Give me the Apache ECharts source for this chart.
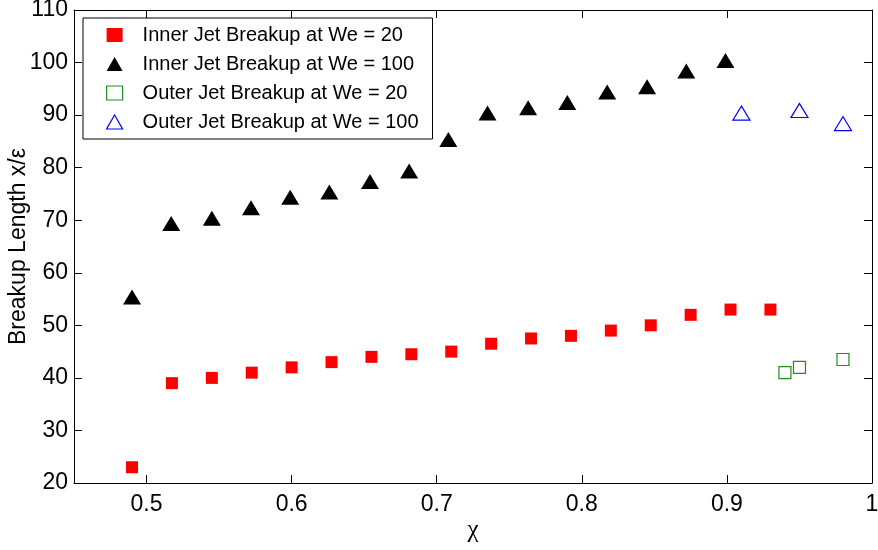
<!DOCTYPE html>
<html>
<head>
<meta charset="utf-8">
<script src="https://cdn.jsdelivr.net/npm/echarts@6/dist/echarts.min.js"></script>
<style>
  html, body { margin: 0; padding: 0; background: #fff; }
  #chart { width: 878px; height: 550px; }
</style>
</head>
<body>
<div id="chart"></div>
<script>
// Breakup length of the inner and outer jets versus the ratio chi
const innerX20  = [0.49, 0.5175, 0.545, 0.5725, 0.6, 0.6275, 0.655, 0.6825, 0.71, 0.7375, 0.765, 0.7925, 0.82, 0.8475, 0.875, 0.9025, 0.93];
const innerY20  = [23, 39, 40, 41, 42, 43, 44, 44.5, 45, 46.5, 47.5, 48, 49, 50, 52, 53, 53];

const innerX100 = [0.49, 0.517, 0.545, 0.572, 0.599, 0.626, 0.654, 0.681, 0.708, 0.735, 0.763, 0.79, 0.8175, 0.845, 0.872, 0.899];
const innerY100 = [55, 69, 70, 72, 74, 75, 77, 79, 85, 90, 91, 92, 94, 95, 98, 100];

const outerX20  = [0.94, 0.95, 0.98];
const outerY20  = [41, 42, 43.5];

const outerX100 = [0.91, 0.95, 0.98];
const outerY100 = [90, 90.5, 88];

const xTicks = [0.5, 0.6, 0.7, 0.8, 0.9, 1];
const xMin = 0.45, xMax = 1;
const yMin = 20, yMax = 110, yStep = 10;

const seriesNames = [
  'Inner Jet Breakup at We = 20',
  'Inner Jet Breakup at We = 100',
  'Outer Jet Breakup at We = 20',
  'Outer Jet Breakup at We = 100'
];

const pairs = (xs, ys) => xs.map((x, i) => [x, ys[i]]);

const FONT = '"Liberation Sans", Arial, Helvetica, sans-serif';

const chart = echarts.init(document.getElementById('chart'), null, { renderer: 'canvas' });

const tickStyle = { show: true, inside: true, length: 8, lineStyle: { color: '#000', width: 1 } };
const lineStyle = { show: true, onZero: false, lineStyle: { color: '#000', width: 1 } };

chart.setOption({
  animation: false,
  backgroundColor: '#fff',
  textStyle: { fontFamily: FONT },
  grid: { left: 74, right: 6, top: 10, bottom: 67, containLabel: false, outerBoundsMode: 'none' },
  xAxis: [
    {
      type: 'value', min: xMin, max: xMax, position: 'bottom',
      name: 'χ', nameLocation: 'middle', nameGap: 35, nameMoveOverlap: false,
      nameTextStyle: { color: '#000', fontSize: 25, fontFamily: '"Liberation Serif", "DejaVu Serif", serif' },
      axisLine: lineStyle,
      axisTick: Object.assign({}, tickStyle, { customValues: xTicks }),
      axisLabel: { customValues: xTicks, color: '#000', fontSize: 23, margin: 10, fontFamily: FONT },
      splitLine: { show: false }
    },
    {
      type: 'value', min: xMin, max: xMax, position: 'top',
      axisLine: lineStyle,
      axisTick: Object.assign({}, tickStyle, { customValues: xTicks }),
      axisLabel: { show: false },
      splitLine: { show: false }
    }
  ],
  yAxis: [
    {
      type: 'value', min: yMin, max: yMax, interval: yStep, position: 'left',
      name: 'Breakup Length x/ε', nameLocation: 'middle', nameGap: 44, nameMoveOverlap: false,
      nameTextStyle: { color: '#000', fontSize: 23, fontFamily: FONT },
      axisLine: lineStyle,
      axisTick: tickStyle,
      axisLabel: { color: '#000', fontSize: 23, margin: 6, fontFamily: FONT },
      splitLine: { show: false }
    },
    {
      type: 'value', min: yMin, max: yMax, interval: yStep, position: 'right',
      axisLine: lineStyle,
      axisTick: tickStyle,
      axisLabel: { show: false },
      splitLine: { show: false }
    }
  ],
  legend: {
    orient: 'vertical',
    left: 83, top: 18,
    padding: [7, 14, 7, 23],
    itemWidth: 16, itemHeight: 14, itemGap: 9,
    backgroundColor: '#fff',
    borderColor: '#000', borderWidth: 1, borderRadius: 0,
    textStyle: { color: '#000', fontSize: 20, lineHeight: 20, fontFamily: FONT, padding: [0, 0, 0, 15] },
    data: [
      { name: seriesNames[0], icon: 'rect' },
      { name: seriesNames[1], icon: 'triangle' },
      { name: seriesNames[2], icon: 'rect', itemStyle: { color: '#fff', borderColor: '#1f8f1f', borderWidth: 1.2 } },
      { name: seriesNames[3], icon: 'triangle', itemStyle: { color: '#fff', borderColor: '#0000ff', borderWidth: 1.2 } }
    ]
  },
  series: [
    {
      name: seriesNames[0], type: 'scatter',
      data: pairs(innerX20, innerY20),
      symbol: 'rect', symbolSize: 12,
      itemStyle: { color: '#ff0000', opacity: 1 }
    },
    {
      name: seriesNames[1], type: 'scatter',
      data: pairs(innerX100, innerY100),
      symbol: 'triangle', symbolSize: [18, 15], symbolOffset: [0, -2],
      itemStyle: { color: '#000000', opacity: 1 }
    },
    {
      name: seriesNames[2], type: 'scatter',
      data: pairs(outerX20, outerY20),
      symbol: 'rect', symbolSize: 12,
      itemStyle: { color: 'rgba(255,255,255,0)', borderColor: '#1f8f1f', borderWidth: 1.2, opacity: 1 }
    },
    {
      name: seriesNames[3], type: 'scatter',
      data: pairs(outerX100, outerY100),
      symbol: 'triangle', symbolSize: [17, 14], symbolOffset: [0, -2],
      itemStyle: { color: 'rgba(255,255,255,0)', borderColor: '#0000ff', borderWidth: 1.2, opacity: 1 }
    }
  ]
});
</script>
</body>
</html>
